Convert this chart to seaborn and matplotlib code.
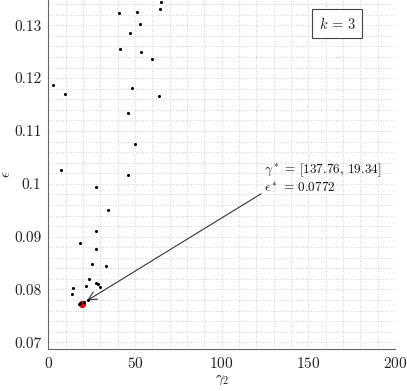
import numpy as np
import pandas as pd
import matplotlib
matplotlib.use("Agg")
import matplotlib.pyplot as plt
from matplotlib.ticker import MultipleLocator
import seaborn as sns

sns.set_style("white")
plt.rcParams['font.family'] = 'serif'
plt.rcParams['font.serif'] = ['cmr10', 'DejaVu Serif']
plt.rcParams['mathtext.fontset'] = 'cm'
plt.rcParams['axes.formatter.use_mathtext'] = True

# sampled (gamma_2, epsilon) pairs
gamma2 = [64.8, 64.4, 41.0, 51.0, 52.9, 47.0, 41.4, 53.3, 59.8, 2.7,
          9.5, 48.3, 64.0, 45.8, 50.2, 7.5, 45.8, 27.7, 34.3, 27.5,
          18.1, 27.7, 25.0, 33.1, 23.7, 27.3, 28.5, 29.8, 21.9, 14.1,
          13.7, 23.1, 18.0, 20.4, 17.6]
eps = [0.1344, 0.13315, 0.13239, 0.13258, 0.13031, 0.12855, 0.12552, 0.12501, 0.12362, 0.1187,
       0.1170, 0.1181, 0.11668, 0.11335, 0.10748, 0.10256, 0.10167, 0.09934, 0.09499, 0.09107,
       0.08874, 0.08766, 0.08476, 0.0845, 0.08193, 0.08128, 0.0810, 0.08041, 0.08071, 0.08028,
       0.07909, 0.07795, 0.0774, 0.0776, 0.0773]

best_gamma = [137.76, 19.34]
best_eps = 0.0772

df = pd.DataFrame({"gamma2": gamma2, "eps": eps})

fig = plt.figure(figsize=(4.07, 3.91), dpi=100)
ax = fig.add_axes([0.1187, 0.1074, 0.8518, 0.8926])

ax.scatter([best_gamma[1]], [best_eps], s=28, color="#d01010", zorder=3, linewidths=0)
sns.scatterplot(data=df, x="gamma2", y="eps", s=5, color="black", linewidth=0, ax=ax, zorder=4)

ax.set_xlim(0, 200)
ax.set_ylim(0.06873, 0.13479)
ax.xaxis.set_major_locator(MultipleLocator(50))
ax.xaxis.set_minor_locator(MultipleLocator(10))
ax.yaxis.set_major_locator(MultipleLocator(0.01))
ax.yaxis.set_minor_locator(MultipleLocator(0.002))
ax.set_yticks([0.07, 0.08, 0.09, 0.1, 0.11, 0.12, 0.13])
ax.set_yticklabels(["0.07", "0.08", "0.09", "0.1", "0.11", "0.12", "0.13"])
ax.grid(True, which="both", color="#c4c4c4", linestyle=(0, (1, 2)), linewidth=0.6)
ax.set_axisbelow(True)

for side in ["top", "right"]:
    ax.spines[side].set_visible(False)
for side in ["left", "bottom"]:
    ax.spines[side].set_color("#666666")
    ax.spines[side].set_linewidth(0.8)
ax.tick_params(which="major", direction="out", length=3, width=0.8, color="#666666",
               labelsize=11, labelcolor="#222222", pad=2)
ax.tick_params(which="minor", length=0)

ax.set_xlabel(r"$\gamma_2$", fontsize=10.5, labelpad=2, color="#222222")
ax.set_ylabel(r"$\epsilon$", fontsize=10.5, labelpad=0.5, color="#222222")

ax.text(124.6, 0.1011, "$\\gamma^* \\,=\\, [137.76,\\, 19.34]$\n$\\epsilon^* \\,=\\, 0.0772$",
        fontsize=9.5, ha="left", va="center", color="#111111", linespacing=1.15)
ax.annotate("", xy=(22.4, 0.0779), xytext=(122.7, 0.0981),
            arrowprops=dict(arrowstyle="->,head_length=0.6,head_width=0.3",
                            color="#333333", lw=0.8, shrinkA=0, shrinkB=0))

ax.text(166.8, 0.1303, "$k \\,=\\, 3$", fontsize=10.5, ha="center", va="center",
        bbox=dict(boxstyle="square,pad=0.45", facecolor="white", edgecolor="#444444", linewidth=0.8))

fig.savefig("out.png", dpi=100)
